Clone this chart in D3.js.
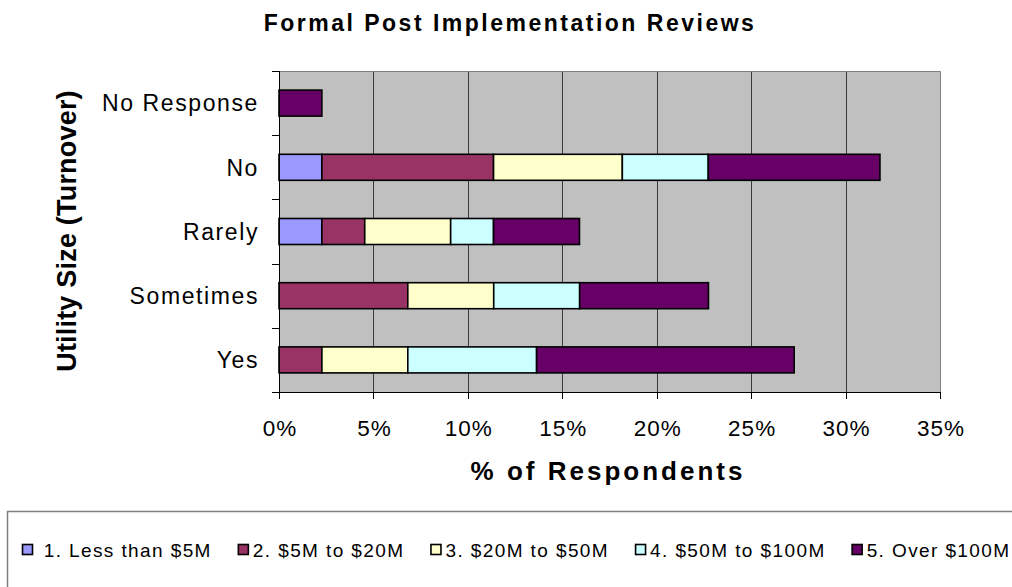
<!DOCTYPE html>
<html>
<head>
<meta charset="utf-8">
<script src="https://cdn.jsdelivr.net/npm/d3@7"></script>
<style>
  html, body { margin: 0; padding: 0; background: #fff; }
  svg { display: block; font-family: Arial, "Liberation Sans", sans-serif; }
</style>
</head>
<body>
<svg id="chart" width="1012" height="587"></svg>
<script>
const categories = ["No Response", "No", "Rarely", "Sometimes", "Yes"];
const seriesNames = ["1. Less than $5M", "2. $5M to $20M", "3. $20M to $50M", "4. $50M to $100M", "5. Over $100M"];
const seriesColors = ["#9999FF", "#993366", "#FFFFCC", "#CCFFFF", "#660066"];
// percentage of respondents, one array per series, in category order
const s1 = [0, 2.27, 2.27, 0, 0];
const s2 = [0, 9.09, 2.27, 6.82, 2.27];
const s3 = [0, 6.82, 4.55, 4.55, 4.55];
const s4 = [0, 4.55, 2.27, 4.55, 6.82];
const s5 = [2.27, 9.09, 4.55, 6.82, 13.64];
const xTicks = [0, 5, 10, 15, 20, 25, 30, 35];

const seriesValues = [s1, s2, s3, s4, s5];
const svg = d3.select("#chart");
const plot = { left: 279, right: 940, top: 71, bottom: 392 };

const x = d3.scaleLinear().domain([0, 35]).range([plot.left, plot.right]);
const y = d3.scaleBand().domain(categories).range([plot.top, plot.bottom]).paddingInner(0.595).paddingOuter(0.2975);

// background
svg.append("rect").attr("x", plot.left).attr("y", plot.top)
  .attr("width", plot.right - plot.left).attr("height", plot.bottom - plot.top)
  .attr("fill", "#C0C0C0");

// gridlines
svg.append("g").selectAll("line").data(xTicks.filter(t => t > 0 && t < 35)).join("line")
  .attr("x1", d => Math.round(x(d)) + 0.5).attr("x2", d => Math.round(x(d)) + 0.5)
  .attr("y1", plot.top).attr("y2", plot.bottom)
  .attr("stroke", "#3a3a3a").attr("stroke-width", 1);

// top / right border
svg.append("path")
  .attr("d", `M${plot.left},${plot.top + 0.5}H${plot.right + 0.5}V${plot.bottom}`)
  .attr("fill", "none").attr("stroke", "#808080").attr("stroke-width", 1);

// stacked bars
const rows = categories.map((c, i) => {
  const o = { cat: c };
  seriesNames.forEach((s, j) => o[s] = seriesValues[j][i]);
  return o;
});
const stack = d3.stack().keys(seriesNames)(rows);
svg.append("g").selectAll("g").data(stack).join("g")
  .attr("fill", (d, i) => seriesColors[i])
  .selectAll("rect").data(d => d.filter(p => p[1] - p[0] > 0)).join("rect")
  .attr("x", d => x(d[0])).attr("width", d => x(d[1]) - x(d[0]))
  .attr("y", d => y(d.data.cat)).attr("height", y.bandwidth())
  .attr("stroke", "#000").attr("stroke-width", 1.6);

// y axis
const yAxisG = svg.append("g").attr("transform", `translate(${plot.left},0)`);
yAxisG.append("line").attr("x1", 0.5).attr("x2", 0.5).attr("y1", plot.top).attr("y2", plot.bottom + 7).attr("stroke", "#000");
const boundaries = d3.range(categories.length + 1).map(i => plot.top + i * (plot.bottom - plot.top) / categories.length);
yAxisG.selectAll("line.tick").data(boundaries).join("line").attr("class", "tick")
  .attr("x1", -7).attr("x2", 0).attr("y1", d => Math.round(d) + 0.5).attr("y2", d => Math.round(d) + 0.5)
  .attr("stroke", "#000");
svg.append("g").selectAll("text").data(categories).join("text")
  .attr("x", 259).attr("y", d => y(d) + y.bandwidth() / 2)
  .attr("dy", "0.36em").attr("text-anchor", "end")
  .attr("font-size", 23).attr("letter-spacing", 1.6).attr("fill", "#000")
  .text(d => d);

// x axis
const xAxisG = svg.append("g");
xAxisG.append("line").attr("x1", plot.left - 7).attr("x2", plot.right + 1).attr("y1", plot.bottom + 0.5).attr("y2", plot.bottom + 0.5).attr("stroke", "#000");
xAxisG.selectAll("line.tick").data(xTicks).join("line").attr("class", "tick")
  .attr("x1", d => Math.round(x(d)) + 0.5).attr("x2", d => Math.round(x(d)) + 0.5)
  .attr("y1", plot.bottom).attr("y2", plot.bottom + 7).attr("stroke", "#000");
xAxisG.selectAll("text").data(xTicks).join("text")
  .attr("x", d => x(d) + 1).attr("y", 436).attr("text-anchor", "middle")
  .attr("font-size", 22.5).attr("letter-spacing", 1).attr("fill", "#000")
  .text(d => d + "%");

// titles
svg.append("text").attr("x", 510).attr("y", 31).attr("text-anchor", "middle")
  .attr("font-size", 23).attr("font-weight", "bold").attr("letter-spacing", 2.5)
  .text("Formal Post Implementation Reviews");
svg.append("text").attr("x", 608).attr("y", 480).attr("text-anchor", "middle")
  .attr("font-size", 26).attr("font-weight", "bold").attr("letter-spacing", 3)
  .text("% of Respondents");
svg.append("text").attr("transform", "translate(76,231) rotate(-90)").attr("text-anchor", "middle")
  .attr("font-size", 27).attr("font-weight", "bold").attr("letter-spacing", 0.2)
  .text("Utility Size (Turnover)");

// legend
svg.append("rect").attr("x", 7.5).attr("y", 511.5).attr("width", 1010).attr("height", 100)
  .attr("fill", "#fff").attr("stroke", "#808080").attr("stroke-width", 1.5);
const lg = svg.append("g");
let lx = 22;
seriesNames.forEach((s, i) => {
  lg.append("rect").attr("x", lx + 0.5).attr("y", 544.5).attr("width", 10).attr("height", 10)
    .attr("fill", seriesColors[i]).attr("stroke", "#000").attr("stroke-width", 1.6);
  const t = lg.append("text").attr("x", lx + 15).attr("y", 557)
    .attr("font-size", 19).attr("letter-spacing", 1.4).style("white-space", "pre")
    .text((i === 0 ? " " : "") + s);
  lx = lx + 15 + t.node().getComputedTextLength() + 26;
});
</script>
</body>
</html>
